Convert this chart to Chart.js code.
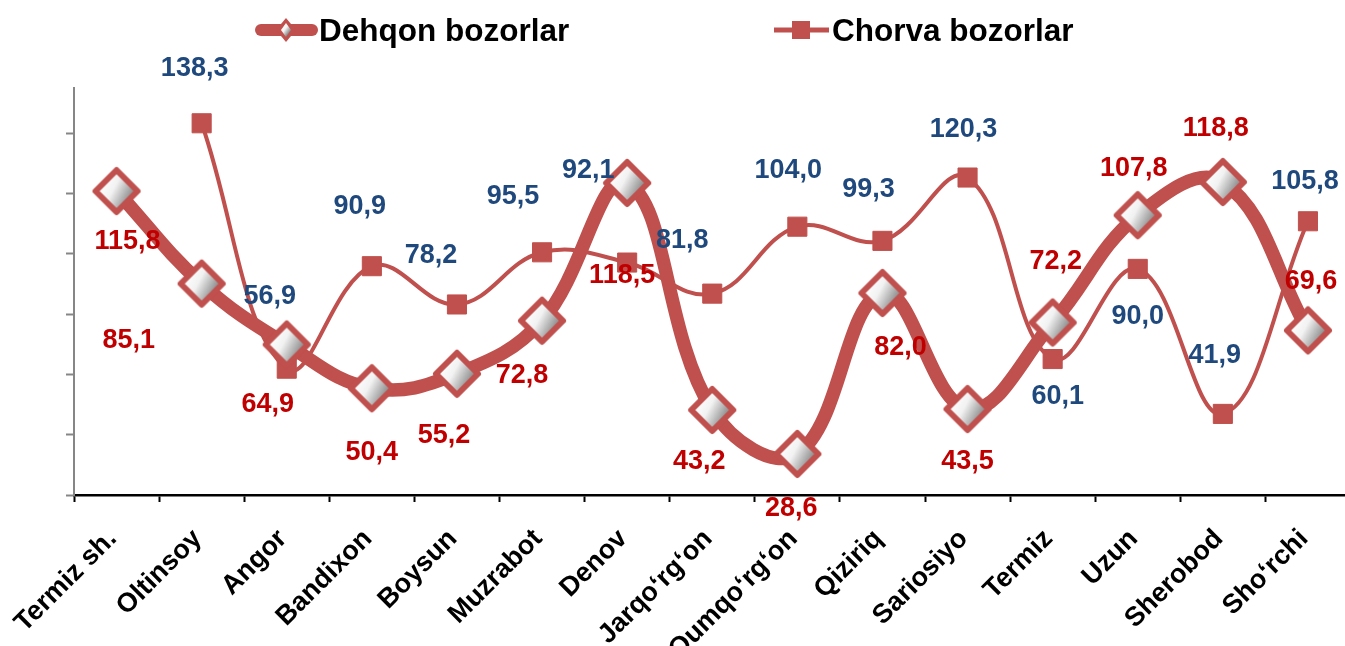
<!DOCTYPE html>
<html><head><meta charset="utf-8">
<script src="https://cdn.jsdelivr.net/npm/chart.js@4"></script>
<style>
html,body{margin:0;padding:0;background:#fff;overflow:hidden;}
#wrap{position:relative;width:1356px;height:646px;}
</style></head>
<body><div id="wrap"><canvas id="c" width="1356" height="646"></canvas></div>
<script>
const categories = ["Termiz sh.","Oltinsoy","Angor","Bandixon","Boysun","Muzrabot","Denov","Jarqo‘rg‘on","Qumqo‘rg‘on","Qiziriq","Sariosiyo","Termiz","Uzun","Sherobod","Sho‘rchi"];
const dehqonValues = [115.8,85.1,64.9,50.4,55.2,72.8,118.5,43.2,28.6,82.0,43.5,72.2,107.8,118.8,69.6];
const chorvaValues = [null,138.3,56.9,90.9,78.2,95.5,92.1,81.8,104.0,99.3,120.3,60.1,90.0,41.9,105.8];
const yTicks = [15,35,55,75,95,115,135];
const seriesNames = ["Dehqon bozorlar","Chorva bozorlar"];

// label placement (pixel offsets from the marker), kept apart from the data
const dehqonLabelOffsets = [[11,50],[-73,57],[-19,60],[0,64],[-13,62],[-20,55],[-5,93],[-13,52],[-6,55],[18,55],[0,52],[3,-61],[-4,-47],[-7,-54],[3,-49]];
const chorvaLabelOffsets = [null,[-7,-55],[-17,-72],[-12,-60],[-26,-49],[-29,-56],[-39,-92],[-30,-53],[-9,-56],[-14,-51],[-4,-48],[5,38],[0,48],[-8,-58],[-3,-40]];

const RED = '#C0504D';
const FONT = '"Liberation Sans", Arial, sans-serif';

function diamondPath(ctx, cx, cy, hw, hh) {
  ctx.beginPath();
  ctx.moveTo(cx, cy - hh);
  ctx.lineTo(cx + hw, cy);
  ctx.lineTo(cx, cy + hh);
  ctx.lineTo(cx - hw, cy);
  ctx.closePath();
}
function fillDiamond(ctx, cx, cy, hw, hh, lw) {
  diamondPath(ctx, cx, cy, hw, hh);
  const g = ctx.createLinearGradient(cx - hw * 0.7, cy - hh * 0.5, cx + hw * 0.8, cy + hh * 0.3);
  g.addColorStop(0, '#ffffff');
  g.addColorStop(0.4, '#f2f2f2');
  g.addColorStop(1, '#808080');
  ctx.fillStyle = g;
  ctx.fill();
  if (lw > 0) {
    ctx.lineWidth = lw;
    ctx.strokeStyle = RED;
    ctx.lineJoin = 'round';
    ctx.stroke();
  }
}
function makeDiamond() {
  const c = document.createElement('canvas');
  c.width = 52; c.height = 52;
  const ctx = c.getContext('2d');
  fillDiamond(ctx, 26, 26, 21, 21, 6);
  return c;
}
const diamondImg = makeDiamond();

const fmt = v => v.toFixed(1).replace('.', ',');

const labelPlugin = {
  id: 'valueLabels',
  afterDatasetsDraw(chart) {
    const ctx = chart.ctx;
    const cfg = [
      {ds: 0, offs: dehqonLabelOffsets, color: '#C00000'},
      {ds: 1, offs: chorvaLabelOffsets, color: '#1F497D'}
    ];
    ctx.save();
    ctx.font = 'bold 27px ' + FONT;
    ctx.textAlign = 'center';
    ctx.textBaseline = 'middle';
    cfg.forEach(c => {
      const meta = chart.getDatasetMeta(c.ds);
      const data = chart.data.datasets[c.ds].data;
      meta.data.forEach((el, i) => {
        const v = data[i];
        if (v === null || v === undefined || !c.offs[i]) return;
        ctx.fillStyle = c.color;
        ctx.fillText(fmt(v), el.x + c.offs[i][0], el.y + c.offs[i][1]);
      });
    });
    ctx.restore();
  }
};

const legendPlugin = {
  id: 'customLegend',
  afterDraw(chart) {
    const ctx = chart.ctx;
    ctx.save();
    // Dehqon
    ctx.strokeStyle = RED;
    ctx.lineCap = 'round';
    ctx.lineWidth = 12;
    ctx.beginPath(); ctx.moveTo(261, 30); ctx.lineTo(312, 30); ctx.stroke();
    diamondPath(ctx, 286, 30, 10, 12);
    ctx.fillStyle = RED; ctx.fill();
    fillDiamond(ctx, 286, 30, 5, 7, 0);
    ctx.font = 'bold 31.5px ' + FONT;
    ctx.fillStyle = '#000';
    ctx.textAlign = 'left';
    ctx.textBaseline = 'alphabetic';
    ctx.fillText(seriesNames[0], 319, 41);
    // Chorva
    ctx.lineCap = 'butt';
    ctx.lineWidth = 5;
    ctx.beginPath(); ctx.moveTo(774, 30); ctx.lineTo(829, 30); ctx.stroke();
    ctx.fillStyle = RED;
    ctx.fillRect(792, 21, 18, 18);
    ctx.fillStyle = '#000';
    ctx.fillText(seriesNames[1], 832, 41);
    ctx.restore();
  }
};

new Chart(document.getElementById('c'), {
  type: 'line',
  data: {
    labels: categories,
    datasets: [
      {
        label: seriesNames[0],
        data: dehqonValues,
        borderColor: RED,
        borderWidth: 13.5,
        borderCapStyle: 'round',
        borderJoinStyle: 'round',
        tension: 0.4,
        pointStyle: diamondImg,
        pointRadius: 24,
        fill: false
      },
      {
        label: seriesNames[1],
        data: chorvaValues,
        borderColor: RED,
        borderWidth: 4,
        tension: 0.4,
        pointStyle: 'rect',
        pointRadius: 13.5,
        pointBackgroundColor: RED,
        pointBorderColor: RED,
        pointBorderWidth: 1,
        fill: false
      }
    ]
  },
  options: {
    responsive: false,
    animation: false,
    events: [],
    layout: {autoPadding: false, padding: {top: 88, right: 5.5, left: 0, bottom: 0}},
    plugins: {legend: {display: false}, tooltip: {enabled: false}},
    scales: {
      x: {
        type: 'category',
        offset: true,
        grid: {offset: true, drawOnChartArea: false, tickLength: 7, color: '#000', tickColor: '#000', tickWidth: 2},
        border: {color: '#000', width: 2.5},
        ticks: {autoSkip: false, maxRotation: 45, minRotation: 45, color: '#000', padding: 21, labelOffset: -4,
          font: {family: FONT, size: 27, weight: 'bold'}},
        afterFit: s => { s.height = 151; s.paddingLeft = 0; s.paddingRight = 0; }
      },
      y: {
        min: 15, max: 150,
        afterBuildTicks: s => { s.ticks = yTicks.map(v => ({value: v})); },
        ticks: {display: false},
        grid: {drawOnChartArea: false, tickLength: 8, color: '#868686', tickColor: '#868686', tickWidth: 2},
        border: {color: '#868686', width: 2},
        afterFit: s => { s.width = 74; s.paddingTop = 0; s.paddingBottom = 0; }
      }
    }
  },
  plugins: [labelPlugin, legendPlugin]
});
</script>
</body></html>
